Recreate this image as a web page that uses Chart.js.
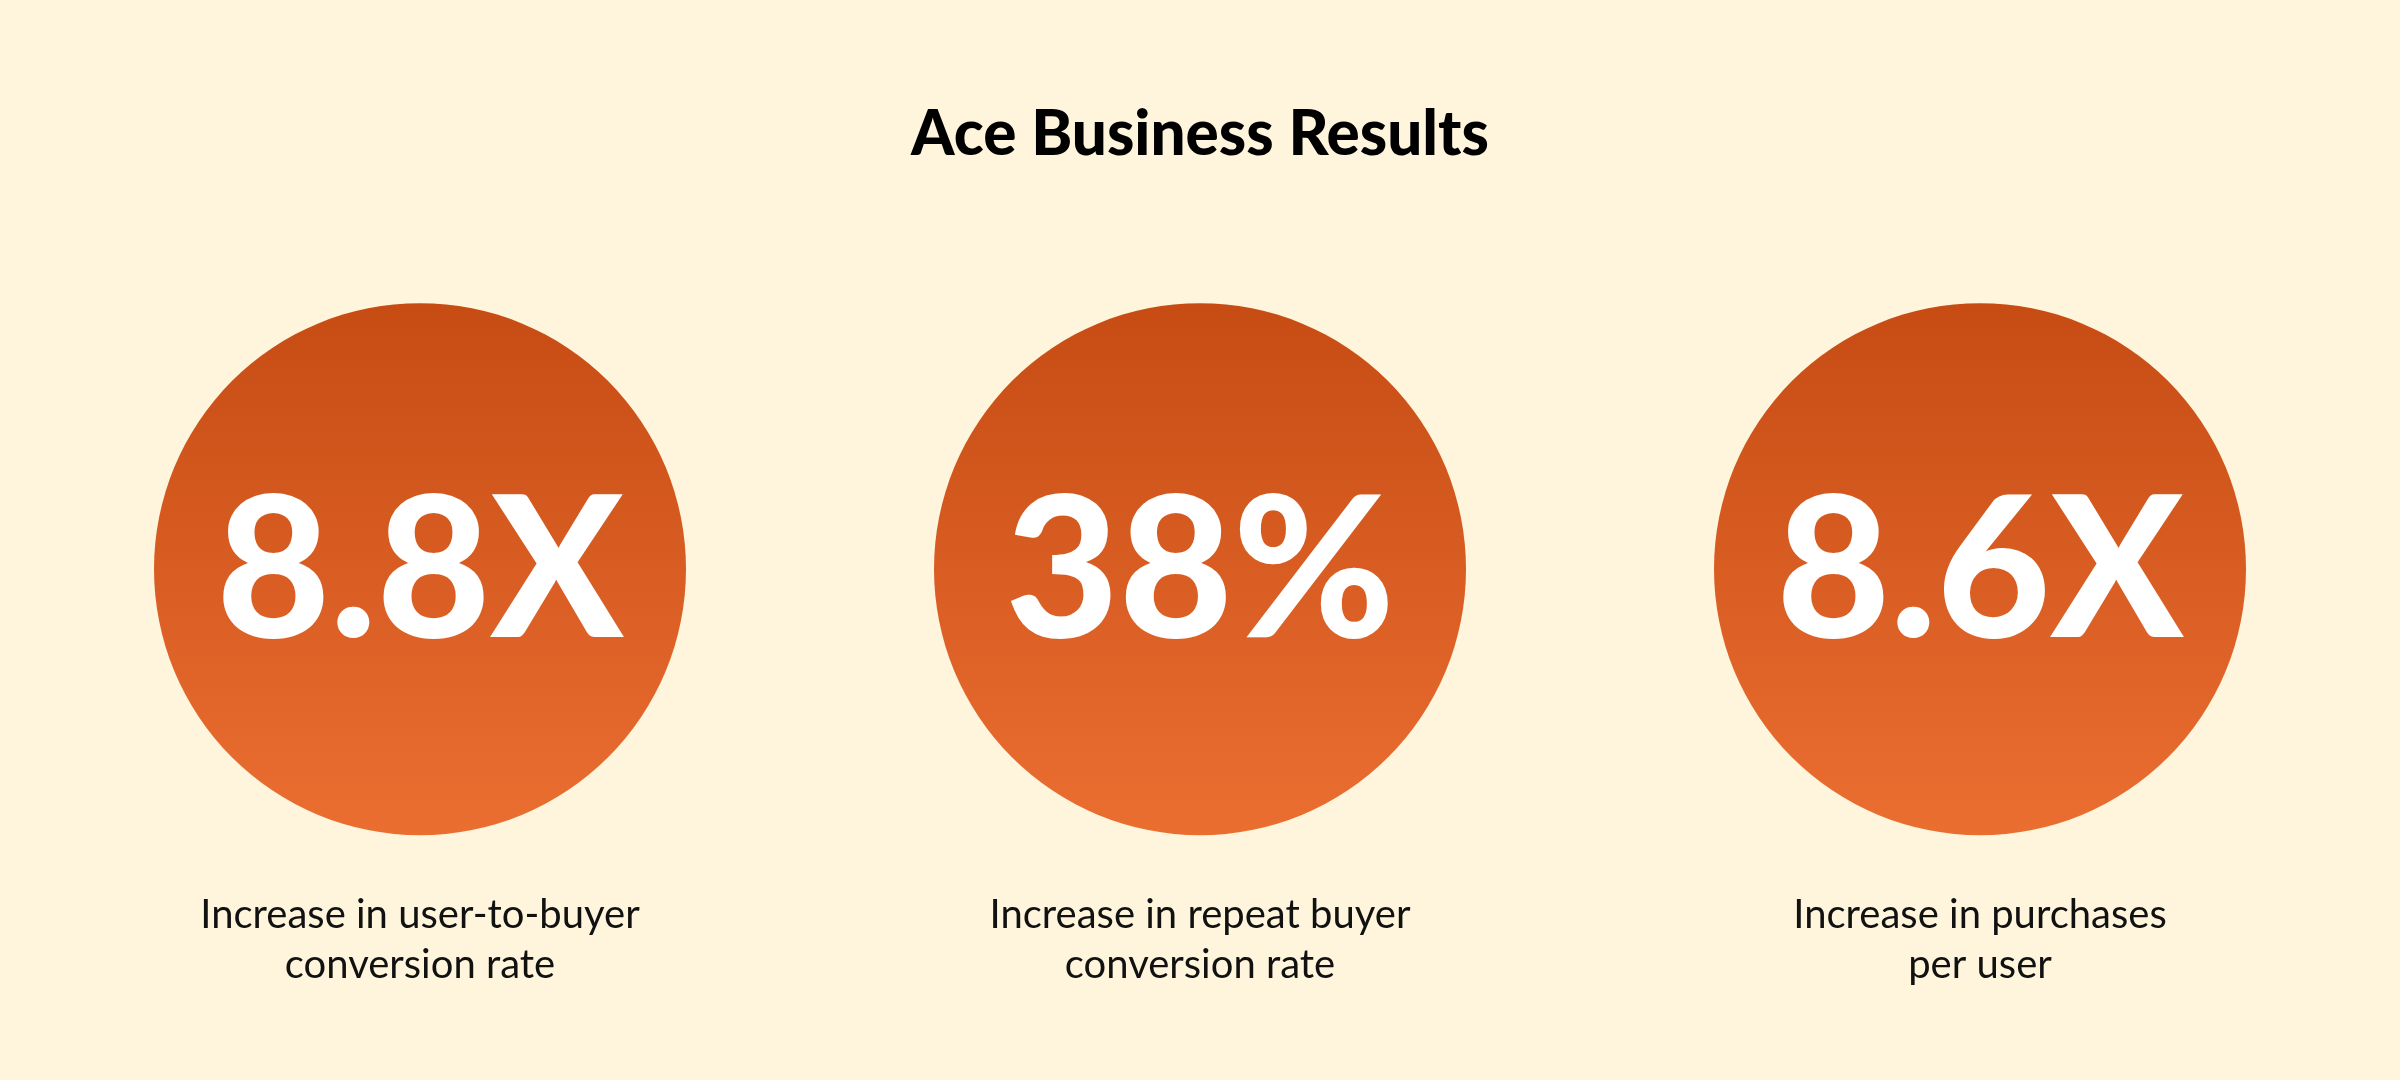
<!DOCTYPE html>
<html>
<head>
<meta charset="utf-8">
<script src="https://cdn.jsdelivr.net/npm/chart.js@4/dist/chart.umd.min.js"></script>
<style>
  html, body { margin: 0; padding: 0; background: #fef5dc; }
  #wrap { width: 2400px; height: 1080px; }
</style>
</head>
<body>
<div id="wrap"><canvas id="statsChart"></canvas></div>
<script>
// --- Data ---
const chartTitle = 'Ace Business Results';
const statValues = ['8.8X', '38%', '8.6X'];
const statLabels = [
    ['Increase in user-to-buyer', 'conversion rate'],
    ['Increase in repeat buyer', 'conversion rate'],
    ['Increase in purchases', 'per user']
];
const circleLevel = 0.473; // vertical position of circles in the 0..1 axis

const ctx = document.getElementById('statsChart').getContext('2d');

// draws the big numbers, captions and the title
const textPlugin = {
    id: 'statText',
    afterDatasetsDraw(chart) {
        const c = chart.ctx;
        const meta = chart.getDatasetMeta(0);
        c.save();
        c.textAlign = 'center';
        c.textBaseline = 'middle';
        c.fillStyle = '#000';
        c.font = '900 62px Lato, "Noto Sans", sans-serif';
        c.fillText(chartTitle, chart.width / 2, 135);
        meta.data.forEach((pt, i) => {
            c.fillStyle = '#ffffff';
            c.font = '900 196px Lato, "Noto Sans", sans-serif';
            c.fillText(statValues[i], pt.x, pt.y + 5);
            c.fillStyle = '#111';
            c.font = '400 40px Lato, "Noto Sans", sans-serif';
            statLabels[i].forEach((line, j) => {
                c.fillText(line, pt.x, 915 + j * 50);
            });
        });
        c.restore();
    }
};

new Chart(ctx, {
    type: 'scatter',
    data: {
        datasets: [{
            data: statValues.map((v, i) => ({ x: i, y: circleLevel })),
            pointRadius: 266,
            pointHoverRadius: 266,
            borderWidth: 0,
            clip: false,
            backgroundColor: function(context) {
                const el = context.element;
                if (!el || el.y === undefined) return '#d95a20';
                const g = context.chart.ctx.createLinearGradient(0, el.y - 266, 0, el.y + 266);
                g.addColorStop(0, '#c64c14');
                g.addColorStop(1, '#eb6e31');
                return g;
            }
        }]
    },
    options: {
        responsive: true,
        maintainAspectRatio: false,
        animation: false,
        layout: { autoPadding: false, padding: { left: 30, right: 30, top: 0, bottom: 0 } },
        scales: {
            x: { type: 'linear', min: -0.5, max: 2.5, display: false },
            y: { min: 0, max: 1, display: false }
        },
        plugins: {
            legend: { display: false },
            tooltip: { enabled: false }
        },
        events: []
    },
    plugins: [textPlugin]
});
</script>
</body>
</html>
